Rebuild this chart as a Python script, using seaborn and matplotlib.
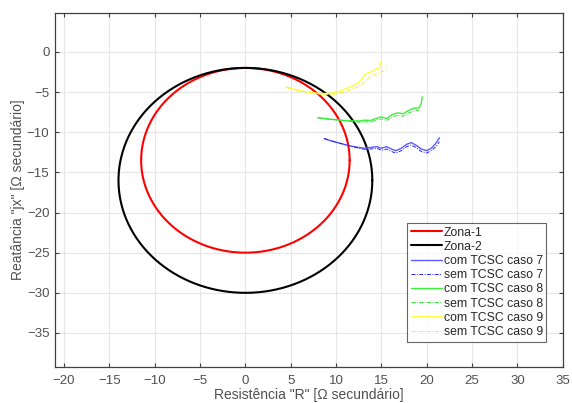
import numpy as np
import pandas as pd
import seaborn as sns
import matplotlib.pyplot as plt

# zone circles (centre R, centre X, radius)
zona_nomes = ["Zona-1", "Zona-2"]
zona_centro_r = [0.0, 0.0]
zona_centro_x = [-13.5, -16.0]
zona_raio = [11.5, 14.0]
zona_cores = ["#ff0000", "#000000"]

# trajectories caso 7 (blue)
c7_r = [8.7, 9.5, 10.5, 11.5, 12.5, 13.2, 13.8, 14.5, 15.0, 15.6, 16.1, 16.6, 17.2, 17.8, 18.3, 18.8, 19.4, 20.0, 20.5, 21.0, 21.4]
c7_com_x = [-10.8, -11.1, -11.4, -11.7, -11.9, -12.0, -11.9, -11.8, -12.0, -11.8, -12.1, -12.3, -12.0, -11.5, -11.3, -11.6, -12.1, -12.3, -12.0, -11.4, -10.7]
c7_sem_x = [-10.8, -11.1, -11.4, -11.7, -12.0, -12.15, -12.1, -12.0, -12.25, -12.1, -12.4, -12.6, -12.3, -11.8, -11.6, -11.9, -12.4, -12.6, -12.3, -11.8, -11.2]

# caso 8 (green)
c8_com_r = [8.0, 9.0, 10.0, 11.0, 12.0, 12.6, 13.2, 13.8, 14.4, 15.0, 15.6, 16.2, 16.8, 17.4, 18.0, 18.6, 19.1, 19.4, 19.5]
c8_com_x = [-8.2, -8.35, -8.45, -8.55, -8.6, -8.6, -8.5, -8.55, -8.3, -8.1, -8.3, -7.8, -7.6, -7.7, -7.3, -7.0, -7.0, -6.5, -5.6]
c8_sem_r = [8.0, 9.0, 10.0, 11.0, 12.0, 12.6, 13.2, 13.8, 14.4, 15.0, 15.6, 16.2, 16.8, 17.4, 18.0, 18.6, 19.0, 19.2]
c8_sem_x = [-8.2, -8.35, -8.45, -8.6, -8.7, -8.75, -8.7, -8.75, -8.5, -8.35, -8.55, -8.1, -7.9, -8.0, -7.6, -7.35, -7.3, -7.2]

# caso 9 (yellow)
c9_com_r = [4.5, 5.5, 6.5, 7.5, 8.5, 9.5, 10.3, 11.0, 11.6, 12.1, 12.5, 12.8, 13.2, 13.6, 14.0, 14.4, 14.8, 14.9]
c9_com_x = [-4.4, -4.7, -4.95, -5.1, -5.2, -5.15, -4.95, -4.6, -4.35, -4.1, -3.8, -3.4, -2.8, -2.6, -2.4, -2.15, -2.0, -1.3]
c9_sem_r = [4.5, 5.5, 6.5, 7.5, 8.5, 9.5, 10.4, 11.2, 11.9, 12.5, 12.9, 13.3, 13.7, 14.1, 14.6, 15.0, 15.4, 15.6]
c9_sem_x = [-4.4, -4.7, -4.95, -5.15, -5.3, -5.3, -5.15, -4.9, -4.6, -4.35, -4.0, -3.6, -3.1, -2.9, -2.7, -2.5, -2.3, -1.8]

x_ticks = list(range(-20, 36, 5))
y_ticks = list(range(-35, 1, 5))

sns.set_style("whitegrid")
plt.rcParams['font.family'] = ['Liberation Sans', 'DejaVu Sans']

fig = plt.figure(figsize=(5.72, 4.03), dpi=100)
ax = fig.add_axes([0.0962, 0.090, 0.8875, 0.877])

theta = np.linspace(0, 2 * np.pi, 400)
for nome, cr, cx, raio, cor in zip(zona_nomes, zona_centro_r, zona_centro_x, zona_raio, zona_cores):
    df = pd.DataFrame({"R": cr + raio * np.cos(theta), "X": cx + raio * np.sin(theta)})
    sns.lineplot(data=df, x="R", y="X", sort=False, estimator=None, color=cor, lw=1.5, label=nome, ax=ax)

series = [
    ("com TCSC caso 7", c7_r, c7_com_x, "#5c5cff", "-", 1.0),
    ("sem TCSC caso 7", c7_r, c7_sem_x, "#2020ff", (0, (4, 1.5, 1, 1.5)), 0.7),
    ("com TCSC caso 8", c8_com_r, c8_com_x, "#3cf03c", "-", 1.0),
    ("sem TCSC caso 8", c8_sem_r, c8_sem_x, "#30e030", (0, (4, 1.5, 1, 1.5)), 0.7),
    ("com TCSC caso 9", c9_com_r, c9_com_x, "#ffff40", "-", 1.0),
    ("sem TCSC caso 9", c9_sem_r, c9_sem_x, "#f0f030", (0, (4, 1.5, 1, 1.5)), 0.7),
]
for nome, r, x, cor, ls, lw in series:
    sns.lineplot(x=r, y=x, sort=False, estimator=None, color=cor, linestyle=ls, lw=lw, label=nome, ax=ax)

ax.set_xlim(-21, 35)
ax.set_ylim(-39.2, 4.8)
ax.set_xticks(x_ticks)
ax.set_yticks(y_ticks)
ax.grid(True, color="#e6e6e6", lw=0.8)
for s in ax.spines.values():
    s.set_visible(True)
    s.set_color("#404040")
    s.set_linewidth(0.9)
ax.tick_params(direction="in", length=3, color="#404040", labelsize=9.5, labelcolor="#505050",
               top=True, right=True, bottom=True, left=True)
ax.tick_params(axis="x", pad=6)
ax.tick_params(axis="y", pad=4)
ax.set_xlabel('Resistência "R" [Ω secundário]', fontsize=10, color="#505050", labelpad=1)
ax.set_ylabel('Reatância "jx" [Ω secundário]', fontsize=10, color="#505050", labelpad=1)

leg = ax.legend(loc="lower right", bbox_to_anchor=(0.968, 0.071), fontsize=8.8, frameon=True,
                fancybox=False, edgecolor="#404040", handlelength=2.5, handletextpad=0.15,
                labelspacing=0.18, borderpad=0.3, borderaxespad=0)
leg.get_frame().set_linewidth(0.8)
for t in leg.get_texts():
    t.set_color("#262626")

fig.savefig("out.png", dpi=100)
